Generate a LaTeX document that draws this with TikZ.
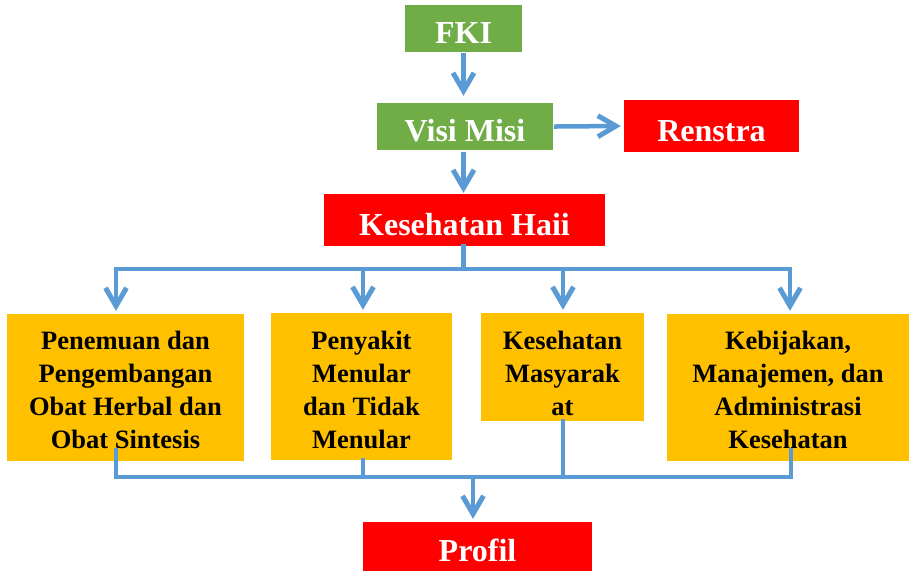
\documentclass[tikz,border=0pt]{standalone}
\usepackage{fontspec}
\setmainfont{Liberation Serif}
\usetikzlibrary{arrows.meta,positioning,calc}
\definecolor{visigreen}{HTML}{70AD47}
\definecolor{hajired}{HTML}{FF0000}
\definecolor{areaorange}{HTML}{FFC000}
\definecolor{flowblue}{HTML}{5B9BD5}

\begin{document}
\begin{tikzpicture}[x=1pt,y=-1pt,
    topbox/.style={inner sep=0pt, minimum height=47pt, text=white,
        font=\fontsize{32}{38}\selectfont\bfseries, text height=30pt, text depth=0pt},
    greenbox/.style={topbox, fill=visigreen},
    redbox/.style={topbox, fill=hajired, minimum height=52pt},
    areabox/.style={fill=areaorange, inner sep=0pt, align=center, minimum height=147pt,
        font=\fontsize{26.5}{33}\selectfont\bfseries, text height=121pt, text depth=0pt},
    flow/.style={draw=flowblue, line width=4.5pt, line cap=rect},
    arr/.style={flow, -{Straight Barb[length=18pt,width=21pt,line width=5pt]}}]
        \useasboundingbox (0,0) rectangle (909,571);

        % Top part
        \node[greenbox, minimum width=117pt] (fki) at (463.5,28.5) {FKI};
        \node[greenbox, minimum width=176pt] (visi) at (465,126.5) {Visi Misi};
        \node[redbox, minimum width=175pt] (renstra) at (711.5,126) {Renstra};
        \node[redbox, minimum width=281pt] (haji) at (464.5,220) {Kesehatan Haii};

        % Areas
        \node[areabox, minimum width=237pt] (b1) at (125.5,387.5) {Penemuan dan\\Pengembangan\\Obat Herbal dan\\Obat Sintesis};
        \node[areabox, minimum width=181pt, text height=123pt] (b2) at (361.5,386.5) {Penyakit\\Menular\\dan Tidak\\Menular};
        \node[areabox, minimum width=163pt, minimum height=108pt, text height=96pt] (b3) at (562.5,367) {Kesehatan\\Masyarak\\at};
        \node[areabox, minimum width=242pt] (b4) at (788,387.5) {Kebijakan,\\Manajemen, dan\\Administrasi\\Kesehatan};

        % Profil
        \node[redbox, minimum width=229pt, minimum height=49pt] (profil) at (477.5,546.5) {Profil};

        % Arrows
        \draw[arr] ($(fki.south)+(0,3)$) -- ($(fki.south |- visi.north)+(0,-7)$);
        \draw[arr] ($(fki.south |- visi.south)+(0,4)$) -- ($(fki.south |- haji.north)+(0,-1)$);
        \draw[arr] ($(visi.east)+(3,0)$) -- ($(renstra.west)+(-3,0)$);

        % Branches
        \coordinate (d1) at (116,269);
        \coordinate (d2) at (363,269);
        \coordinate (d3) at (563,269);
        \coordinate (d4) at (790,269);
        \draw[flow] (fki.south |- haji.south) -- (fki.south |- d1);
        \draw[flow] (d1) -- (d4);
        \foreach \d/\b in {d1/b1,d2/b2,d3/b3,d4/b4} {
            \draw[arr] (\d) -- ($(\d |- \b.north)+(0,-3)$);
        }

        % Back to Profil
        \coordinate (m1) at (116,477);
        \coordinate (m4) at (791,477);
        \coordinate (join) at (473,477);
        \draw[flow] ($(m1 |- b1.south)+(0,-11)$) -- (m1) -- (m4) -- ($(m4 |- b4.south)+(0,-11)$);
        \draw[flow] (d2 |- b2.south) -- (d2 |- m1);
        \draw[flow] (d3 |- b3.south) -- (d3 |- m1);
        \draw[arr] (join) -- ($(join |- profil.north)+(0,-3)$);
    \end{tikzpicture}
\end{document}
